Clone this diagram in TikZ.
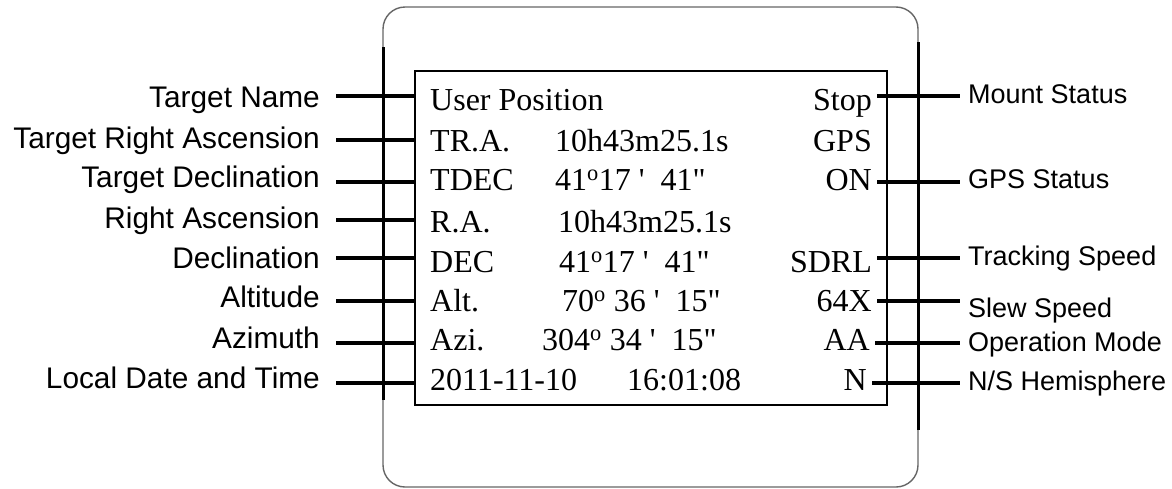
\documentclass[tikz,border=0pt]{standalone}
\usepackage{fontspec}
\setmainfont{Liberation Sans}
\newfontfamily\lcd{Liberation Serif}
\begin{document}
\begin{tikzpicture}[x=1pt,y=-1pt,
  lcdtxt/.style={font=\lcd\fontsize{32}{36}\selectfont, inner sep=0pt, anchor=base west},
  lcdval/.style={font=\lcd\fontsize{32}{36}\selectfont, inner sep=0pt, anchor=base east},
  llab/.style={font=\fontsize{29.8}{33}\selectfont, inner sep=0pt, anchor=base east},
  rlab/.style={font=\fontsize{27}{30}\selectfont, inner sep=0pt, anchor=base west},
  conn/.style={line width=3.2pt},
  frame/.style={line width=3pt}]
\useasboundingbox (0,0) rectangle (1172,488);

% outer casing
\draw[black!60, line width=1.4pt, rounded corners=22pt] (383,7) rectangle (918,487);
\coordinate (oL1) at (383,47);  \coordinate (oL2) at (383,400);
\coordinate (oR1) at (918,42);  \coordinate (oR2) at (918,430);
\draw[frame] (oL1) -- (oL2);
\draw[frame] (oR1) -- (oR2);

% screen
\node[draw, line width=2.2pt, minimum width=472pt, minimum height=334pt, inner sep=0pt, anchor=north west] (screen) at (414,70) {};

% row line heights
\coordinate (r1) at (0,96);
\coordinate (r2) at (0,140);
\coordinate (r3) at (0,182);
\coordinate (r4) at (0,220);
\coordinate (r5) at (0,258);
\coordinate (r6) at (0,301);
\coordinate (r7) at (0,343);
\coordinate (r8) at (0,383);

% screen texts
\node[lcdtxt] (tUP) at (430,110) {User Position};
\node[lcdtxt] (tTRA) at (430,151) {TR.A.};
\node[lcdtxt] (tTRAv) at (555,151) {10h43m25.1s};
\node[lcdtxt] (tTDEC) at (430,190) {TDEC};
\node[lcdtxt] (tTDECv) at (555,190) {41\textsuperscript{o}17 '~~41"};
\node[lcdtxt] (tRA) at (430,232) {R.A.};
\node[lcdtxt] (tRAv) at (558,232) {10h43m25.1s};
\node[lcdtxt] (tDEC) at (430,272) {DEC};
\node[lcdtxt] (tDECv) at (559,272) {41\textsuperscript{o}17 '~~41"};
\node[lcdtxt] (tAlt) at (430,311) {Alt.};
\node[lcdtxt] (tAltv) at (562,311) {70\textsuperscript{o} 36 '~~15"};
\node[lcdtxt] (tAzi) at (430,350) {Azi.};
\node[lcdtxt] (tAziv) at (542,350) {304\textsuperscript{o} 34 '~~15"};
\node[lcdtxt] (tDate) at (430,390) {2011-11-10};
\node[lcdtxt] (tTime) at (627,390) {16:01:08};

\node[lcdval] (vStop) at (872,110) {Stop};
\node[lcdval] (vGPS) at (872,151) {GPS};
\node[lcdval] (vON) at (872,190) {ON};
\node[lcdval] (vSDRL) at (872,272) {SDRL};
\node[lcdval] (v64X) at (872,311) {64X};
\node[lcdval] (vAA) at (870,350) {AA};
\node[lcdval] (vN) at (867,390) {N};

% left labels
\node[llab] (lTN) at (320,107) {Target Name};
\node[llab] (lTRA) at (320,148) {Target Right Ascension};
\node[llab] (lTD) at (320,187) {Target Declination};
\node[llab] (lRA) at (320,228) {Right Ascension};
\node[llab] (lD) at (320,268) {Declination};
\node[llab] (lAlt) at (320,307) {Altitude};
\node[llab] (lAzi) at (320,348) {Azimuth};
\node[llab] (lLDT) at (320,388) {Local Date and Time};

\foreach \n/\r in {lTN/r1, lTRA/r2, lTD/r3, lRA/r4, lD/r5, lAlt/r6, lAzi/r7, lLDT/r8}
  \draw[conn] ([xshift=16pt]\n.east |- \r) -- (screen.west |- \r);

% right labels
\node[rlab] (rMS) at (968,103) {Mount Status};
\node[rlab] (rGS) at (968,188) {GPS Status};
\node[rlab] (rTS) at (968,265) {Tracking Speed};
\node[rlab] (rSS) at (968,317) {Slew Speed};
\node[rlab] (rOM) at (968,351) {Operation Mode};
\node[rlab] (rNS) at (968,390) {N/S Hemisphere};

\foreach \v/\l/\r in {vStop/rMS/r1, vON/rGS/r3, vSDRL/rTS/r5, v64X/rSS/r6, vAA/rOM/r7, vN/rNS/r8}
  \draw[conn] ([xshift=5pt]\v.east |- \r) -- ([xshift=-8pt]\l.west |- \r);
\end{tikzpicture}
\end{document}
